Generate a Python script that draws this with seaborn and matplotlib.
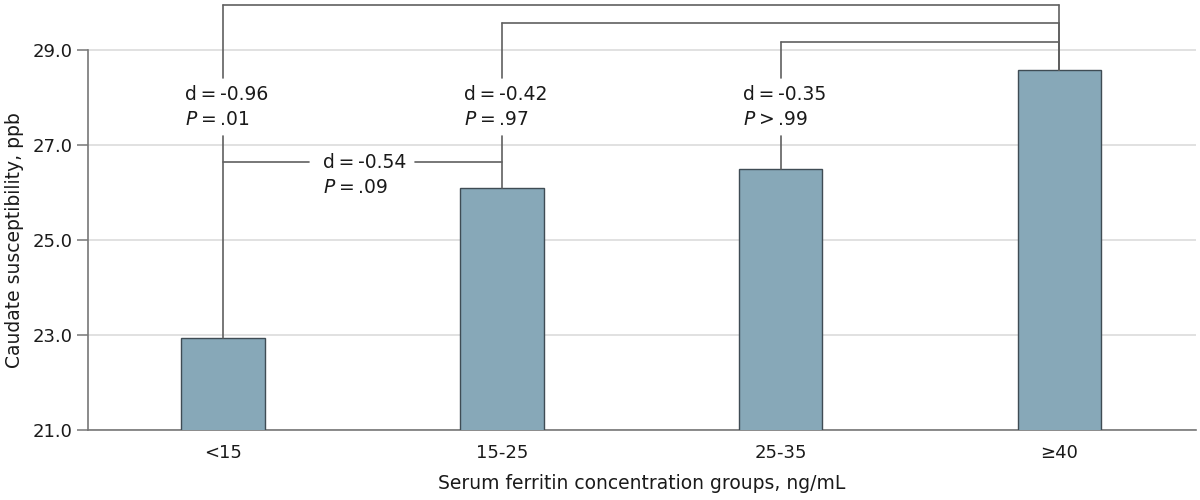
import matplotlib
matplotlib.use("Agg")
import matplotlib.pyplot as plt
import seaborn as sns
import pandas as pd

# ---- data ----
groups = ["<15", "15-25", "25-35", "≥40"]
susceptibility = [22.94, 26.09, 26.49, 28.58]

# comparisons against the ≥40 group (from index, to index, bracket height, d, P text)
top_from = [0, 1, 2]
top_to = [3, 3, 3]
top_height = [29.95, 29.57, 29.17]
top_d = ["-0.96", "-0.42", "-0.35"]
top_p = ["= .01", "= .97", "> .99"]

# comparison <15 vs 15-25
low_pair = (0, 1)
low_height = 26.64
low_d = "-0.54"
low_p = "= .09"

yticks = [21.0, 23.0, 25.0, 27.0, 29.0]

# ---- style ----
sns.set_theme(style="white")
plt.rcParams["font.family"] = ["DejaVu Sans"]
plt.rcParams["mathtext.fontset"] = "dejavusans"

bar_color = "#87a8b8"
edge_color = "#3f4c54"
line_color = "#606060"
text_color = "#1a1a1a"

fig = plt.figure(figsize=(12, 5), dpi=100)
ax = fig.add_axes([0.0733, 0.14, 0.9234, 0.855])

df = pd.DataFrame({"group": groups, "value": susceptibility})
sns.barplot(data=df, x="group", y="value", order=groups, color=bar_color,
            width=0.3, edgecolor=edge_color, linewidth=1.0, saturation=1,
            ax=ax, zorder=3)

ax.set_ylim(21, 30)
ax.set_xlim(-0.484, 3.49)
ax.set_yticks(yticks)
ax.set_yticklabels([f"{v:.1f}" for v in yticks])
ax.yaxis.grid(True, color="#dcdcdc", linewidth=1.2, zorder=0)
ax.set_axisbelow(True)

for s in ["top", "right"]:
    ax.spines[s].set_visible(False)
ax.spines["left"].set_bounds(21, 29)
ax.spines["left"].set_color("#777777")
ax.spines["bottom"].set_color("#777777")
ax.spines["left"].set_linewidth(1.2)
ax.spines["bottom"].set_linewidth(1.2)
ax.tick_params(axis="y", length=8, width=1.1, color="#777777", labelsize=13,
               labelcolor=text_color, left=True, pad=3)
ax.tick_params(axis="x", length=0, labelsize=13, labelcolor=text_color, pad=10)

ax.set_xlabel("Serum ferritin concentration groups, ng/mL", fontsize=13.5,
              color=text_color, labelpad=9)
ax.set_ylabel("Caudate susceptibility, ppb", fontsize=13.5, color=text_color)
ax.yaxis.set_label_coords(-0.058, (25 - 21) / (30 - 21))

lw = 1.2
label_center = 27.8
gap_half = 0.61
ts = "\u2009"

# top brackets
for i, j, h, d, p in zip(top_from, top_to, top_height, top_d, top_p):
    yi = susceptibility[i]
    yj = susceptibility[j]
    ax.plot([i, j], [h, h], color=line_color, lw=lw, clip_on=False, zorder=4)
    ax.plot([j, j], [yj, h], color=line_color, lw=lw, clip_on=False, zorder=4)
    # left leg with gap for the label
    ax.plot([i, i], [label_center + gap_half, h], color=line_color, lw=lw,
            clip_on=False, zorder=4)
    ax.plot([i, i], [yi, label_center - gap_half], color=line_color, lw=lw,
            zorder=4)
    ax.text(i - 0.135, label_center,
            f"d{ts}={ts}{d}\n$P${ts}{p.replace(' ', ts)}",
            ha="left", va="center", fontsize=13.5, color=text_color,
            linespacing=1.45)

# lower bracket
a, b = low_pair
mid = (a + b) / 2
half = 0.19
ax.plot([a, mid - half], [low_height, low_height], color=line_color, lw=lw, zorder=4)
ax.plot([mid + half, b], [low_height, low_height], color=line_color, lw=lw, zorder=4)
ax.text(mid - 0.142, low_height, f"d{ts}={ts}{low_d}", ha="left", va="center",
        fontsize=13.5, color=text_color)
ax.text(mid - 0.142, low_height - 0.53, f"$P${ts}{low_p.replace(' ', ts)}",
        ha="left", va="center", fontsize=13.5, color=text_color)

fig.savefig("out.png", dpi=100)
